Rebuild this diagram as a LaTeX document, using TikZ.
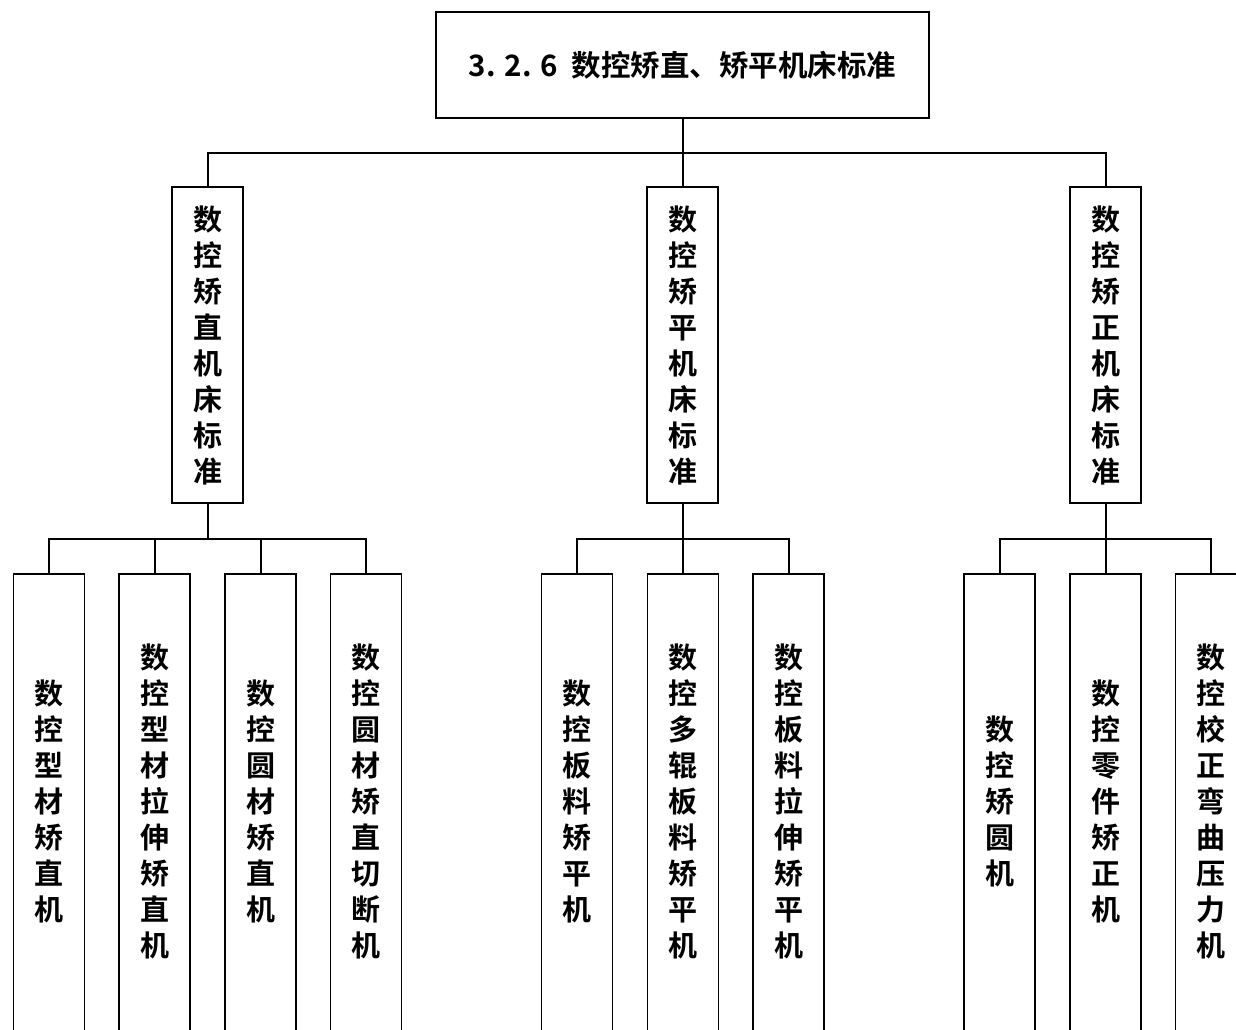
\documentclass[tikz,border=0pt]{standalone}
\usepackage{fontspec}
\setmainfont{Noto Sans CJK SC}[BoldFont={* Bold}]
\usetikzlibrary{calc}
\tikzset{
  box/.style={draw, line width=1.8pt, inner sep=0pt, fill=white},
  midbox/.style={box, minimum width=71pt, minimum height=316pt, align=center,
    font=\bfseries\fontsize{29}{36}\selectfont},
  leafbox/.style={box, minimum width=71pt, minimum height=480pt},
  vt/.style={align=center, inner sep=0pt, font=\bfseries\fontsize{29}{36}\selectfont},
  conn/.style={line width=2pt},
}
\begin{document}
\begin{tikzpicture}[x=1pt,y=-1pt]
\useasboundingbox (0,0) rectangle (1236,1029);
\clip (0,0) rectangle (1236,1029);
% top
\node[box, minimum width=493pt, minimum height=106pt, font=\bfseries\fontsize{29.5}{36}\selectfont] (top) at (682.5,65) {3. 2. 6\hspace{0.45em}数控矫直、矫平机床标准};
% level 2
\node[midbox] (A) at (207.5,345) {数\\控\\矫\\直\\机\\床\\标\\准};
\node[midbox] (B) at (682.5,345) {数\\控\\矫\\平\\机\\床\\标\\准};
\node[midbox] (C) at (1105.5,345) {数\\控\\矫\\正\\机\\床\\标\\准};
% level 3 boxes
\node[leafbox] (A1) at (49,814) {};
\node[leafbox] (A2) at (154.5,814) {};
\node[leafbox] (A3) at (260.5,814) {};
\node[leafbox] (A4) at (366,814) {};
\node[leafbox] (B1) at (577,814) {};
\node[leafbox] (B2) at (683,814) {};
\node[leafbox] (B3) at (788.5,814) {};
\node[leafbox] (C1) at (999.5,814) {};
\node[leafbox] (C2) at (1105.5,814) {};
\node[leafbox] (C3) at (1211,814) {};
% level 3 texts
\node[vt] (tA1) at (49,801) {数\\控\\型\\材\\矫\\直\\机};
\node[vt] (tA2) at (154.5,801) {数\\控\\型\\材\\拉\\伸\\矫\\直\\机};
\node[vt] (tA3) at (260.5,801) {数\\控\\圆\\材\\矫\\直\\机};
\node[vt] (tA4) at (366,801) {数\\控\\圆\\材\\矫\\直\\切\\断\\机};
\node[vt] (tB1) at (577,801) {数\\控\\板\\料\\矫\\平\\机};
\node[vt] (tB2) at (683,801) {数\\控\\多\\辊\\板\\料\\矫\\平\\机};
\node[vt] (tB3) at (788.5,801) {数\\控\\板\\料\\拉\\伸\\矫\\平\\机};
\node[vt] (tC1) at (999.5,801) {数\\控\\矫\\圆\\机};
\node[vt] (tC2) at (1105.5,801) {数\\控\\零\\件\\矫\\正\\机};
\node[vt] (tC3) at (1211,801) {数\\控\\校\\正\\弯\\曲\\压\\力\\机};
% connectors
\foreach \p/\c in {top/A,top/B,top/C,A/A1,A/A2,A/A3,A/A4,B/B1,B/B2,B/B3,C/C1,C/C2,C/C3}
  \draw[conn] (\p.south) |- ($(\p.south)!0.5!(\c.north)$) -| (\c.north);
\end{tikzpicture}
\end{document}
